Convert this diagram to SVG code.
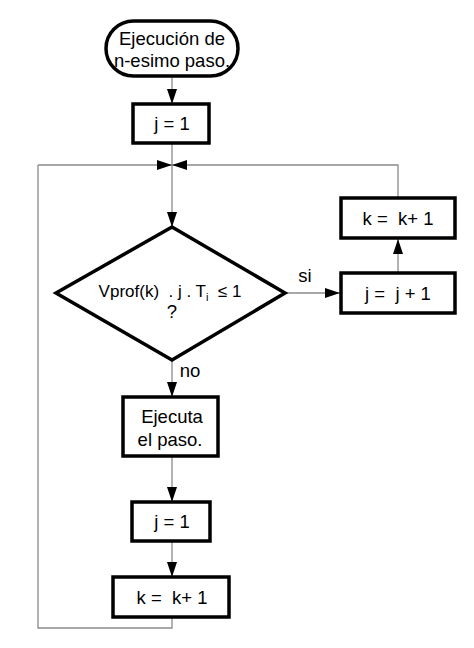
<svg xmlns="http://www.w3.org/2000/svg" width="474" height="648" viewBox="0 0 474 648">
<style>
.box{fill:#fff;stroke:#000;stroke-width:3.5}
.c{fill:none;stroke:#8a8a8a;stroke-width:1.3}
text{font-family:"Liberation Sans",Arial,sans-serif;font-size:18.5px;fill:#000;text-anchor:middle}
.dt{font-size:17px}
.sub{font-size:11px}
</style>
<defs>
<marker id="ah" markerWidth="15" markerHeight="10" refX="15" refY="5" orient="auto" markerUnits="userSpaceOnUse">
<path d="M0,0 L15,5 L0,10 Z" fill="#000"/>
</marker>
</defs>
<rect width="474" height="648" fill="#fff"/>
<g id="connectors">
<path class="c" d="M172,77 V104" marker-end="url(#ah)"/>
<path class="c" d="M172,143 V227" marker-end="url(#ah)"/>
<path class="c" d="M38,165 H172" marker-end="url(#ah)"/>
<path class="c" d="M398,198 V165 H172" marker-end="url(#ah)"/>
<path class="c" d="M285,293 H340" marker-end="url(#ah)"/>
<path class="c" d="M398,273 V239" marker-end="url(#ah)"/>
<path class="c" d="M172,360 V397" marker-end="url(#ah)"/>
<path class="c" d="M172,456 V502" marker-end="url(#ah)"/>
<path class="c" d="M172,541 V577" marker-end="url(#ah)"/>
<path class="c" d="M172,617 V628 H38 V165"/>
<text x="305" y="282">si</text>
<text x="190" y="377">no</text>
</g>
<g id="start">
<rect class="box" x="106" y="21" width="132" height="55" rx="27.5"/>
<text x="172" y="45">Ejecución de</text>
<text x="172" y="67">n-esimo paso.</text>
</g>
<g id="j1a">
<rect class="box" x="133" y="104" width="76" height="39"/>
<text x="172" y="130">j = 1</text>
</g>
<g id="decision">
<polygon class="box" points="172,227 285,293 172,360 56,293"/>
<text class="dt" x="170" y="297" xml:space="preserve"><tspan>Vprof(k)  . j . T</tspan><tspan class="sub" dy="4">i</tspan><tspan dy="-4">  ≤ 1</tspan></text>
<text x="172" y="318">?</text>
</g>
<g id="jinc">
<rect class="box" x="341" y="273" width="114" height="40"/>
<text x="398" y="300" xml:space="preserve">j =  j + 1</text>
</g>
<g id="kinc2">
<rect class="box" x="341" y="198" width="114" height="40"/>
<text x="398" y="225" xml:space="preserve">k =  k+ 1</text>
</g>
<g id="exec">
<rect class="box" x="123" y="397" width="95" height="59"/>
<text x="172" y="423">Ejecuta</text>
<text x="170" y="446">el paso.</text>
</g>
<g id="j1b">
<rect class="box" x="132" y="502" width="78" height="39"/>
<text x="172" y="528">j = 1</text>
</g>
<g id="kinc">
<rect class="box" x="113" y="577" width="116" height="40"/>
<text x="172" y="604" xml:space="preserve">k =  k+ 1</text>
</g>
</svg>
